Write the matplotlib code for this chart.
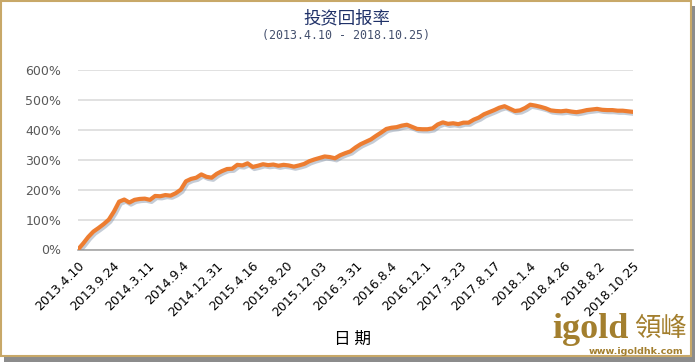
import matplotlib
matplotlib.use("Agg")
import numpy as np
import matplotlib.pyplot as plt
import matplotlib.patheffects as pe
from matplotlib.patches import Rectangle

plt.rcParams['font.family'] = ['Noto Sans CJK SC', 'DejaVu Sans']

# 投资回报率 (%), roughly weekly points
returns = [0, 20, 42, 60, 72, 85, 100, 127, 160, 167,
           157, 166, 169, 170, 166, 179, 178, 182, 180, 188,
           200, 228, 236, 240, 251, 243, 240, 253, 262, 269,
           270, 283, 281, 288, 276, 280, 285, 282, 284, 280,
           283, 281, 277, 281, 286, 295, 301, 306, 311, 309,
           305, 315, 322, 328, 341, 352, 360, 368, 380, 391,
           403, 407, 409, 414, 417, 410, 403, 402, 402, 405,
           418, 425, 420, 422, 419, 424, 424, 434, 441, 452,
           459, 466, 474, 479, 471, 463, 465, 473, 484, 481,
           477, 472, 465, 463, 462, 464, 461, 459, 462, 466,
           468, 470, 467, 466, 466, 464, 464, 462, 460]

date_labels = ['2013.4.10', '2013.9.24', '2014.3.11', '2014.9.4', '2014.12.31',
               '2015.4.16', '2015.8.20', '2015.12.03', '2016.3.31', '2016.8.4',
               '2016.12.1', '2017.3.23', '2017.8.17', '2018.1.4', '2018.4.26',
               '2018.8.2', '2018.10.25']
y_ticks = [0, 100, 200, 300, 400, 500, 600]

W, H = 695, 362
fig = plt.figure(figsize=(W / 100, H / 100), dpi=100)
fig.patch.set_facecolor('white')

# frame with a little shadow
fig.patches.append(Rectangle((4 / W, 0), 691 / W, 356 / H, transform=fig.transFigure,
                             facecolor='#8c8c8c', edgecolor='none', zorder=-2))
fig.patches.append(Rectangle((1 / W, 6 / H), 690 / W, 355 / H, transform=fig.transFigure,
                             facecolor='white', edgecolor='#c8a868', linewidth=1.5, zorder=-1))

ax = fig.add_axes([78 / W, 1 - 249.5 / H, 555 / W, 179.5 / H])
ax.set_facecolor('none')
ax.set_zorder(2)

x = np.arange(len(returns))
ax.plot(x, returns, color='#ED7D31', linewidth=3.0, solid_capstyle='round',
        path_effects=[pe.SimpleLineShadow(offset=(1.2, -1.5), shadow_color='#7f8fa6', alpha=0.45),
                      pe.Normal()], zorder=3)

ax.set_xlim(0, len(returns) - 1)
ax.set_ylim(0, 600)
ax.set_yticks(y_ticks)
ax.set_yticklabels([f'{v}%' for v in y_ticks], color='#595959', fontsize=9,
                   family=['DejaVu Sans'])
ax.yaxis.grid(True, color='#d9d9d9', linewidth=1.1)
ax.set_axisbelow(True)
ax.tick_params(axis='y', length=0, pad=12)

tick_pos = np.linspace(0, len(returns) - 1, len(date_labels))
ax.set_xticks(tick_pos)
ax.set_xticklabels(date_labels, rotation=45, ha='right', va='top', rotation_mode='anchor',
                   fontsize=9, color='black', family=['DejaVu Sans'])
ax.tick_params(axis='x', length=0, pad=7)

for s in ['top', 'right', 'left']:
    ax.spines[s].set_visible(False)
ax.spines['bottom'].set_color('#a6a6a6')
ax.spines['bottom'].set_linewidth(1.2)

fig.text(347 / W, 1 - 18 / H, '投资回报率', ha='center', va='center', fontsize=12.5,
         color='#1f3168')
fig.text(346 / W, 1 - 36 / H, '(2013.4.10 - 2018.10.25)', ha='center', va='center',
         fontsize=8.4, color='#44506e', family=['DejaVu Sans Mono'])
fig.text(352 / W, 1 - 339 / H, '日 期', ha='center', va='center', fontsize=12, color='black')

# logo
gold = '#a37f2e'
fig.text(552 / W, 1 - 338 / H, 'igold', ha='left', va='baseline', fontsize=26,
         fontweight='bold', color=gold, family=['Liberation Serif'])
fig.text(661 / W, 1 - 328 / H, '領峰', ha='center', va='center', fontsize=19,
         color=gold, family=['Noto Sans CJK TC'])
fig.text(636 / W, 1 - 351 / H, 'www.igoldhk.com', ha='center', va='center', fontsize=6.8,
         fontweight='bold', color=gold, family=['DejaVu Sans'])

fig.savefig('out.png', dpi=100, facecolor=fig.get_facecolor())
